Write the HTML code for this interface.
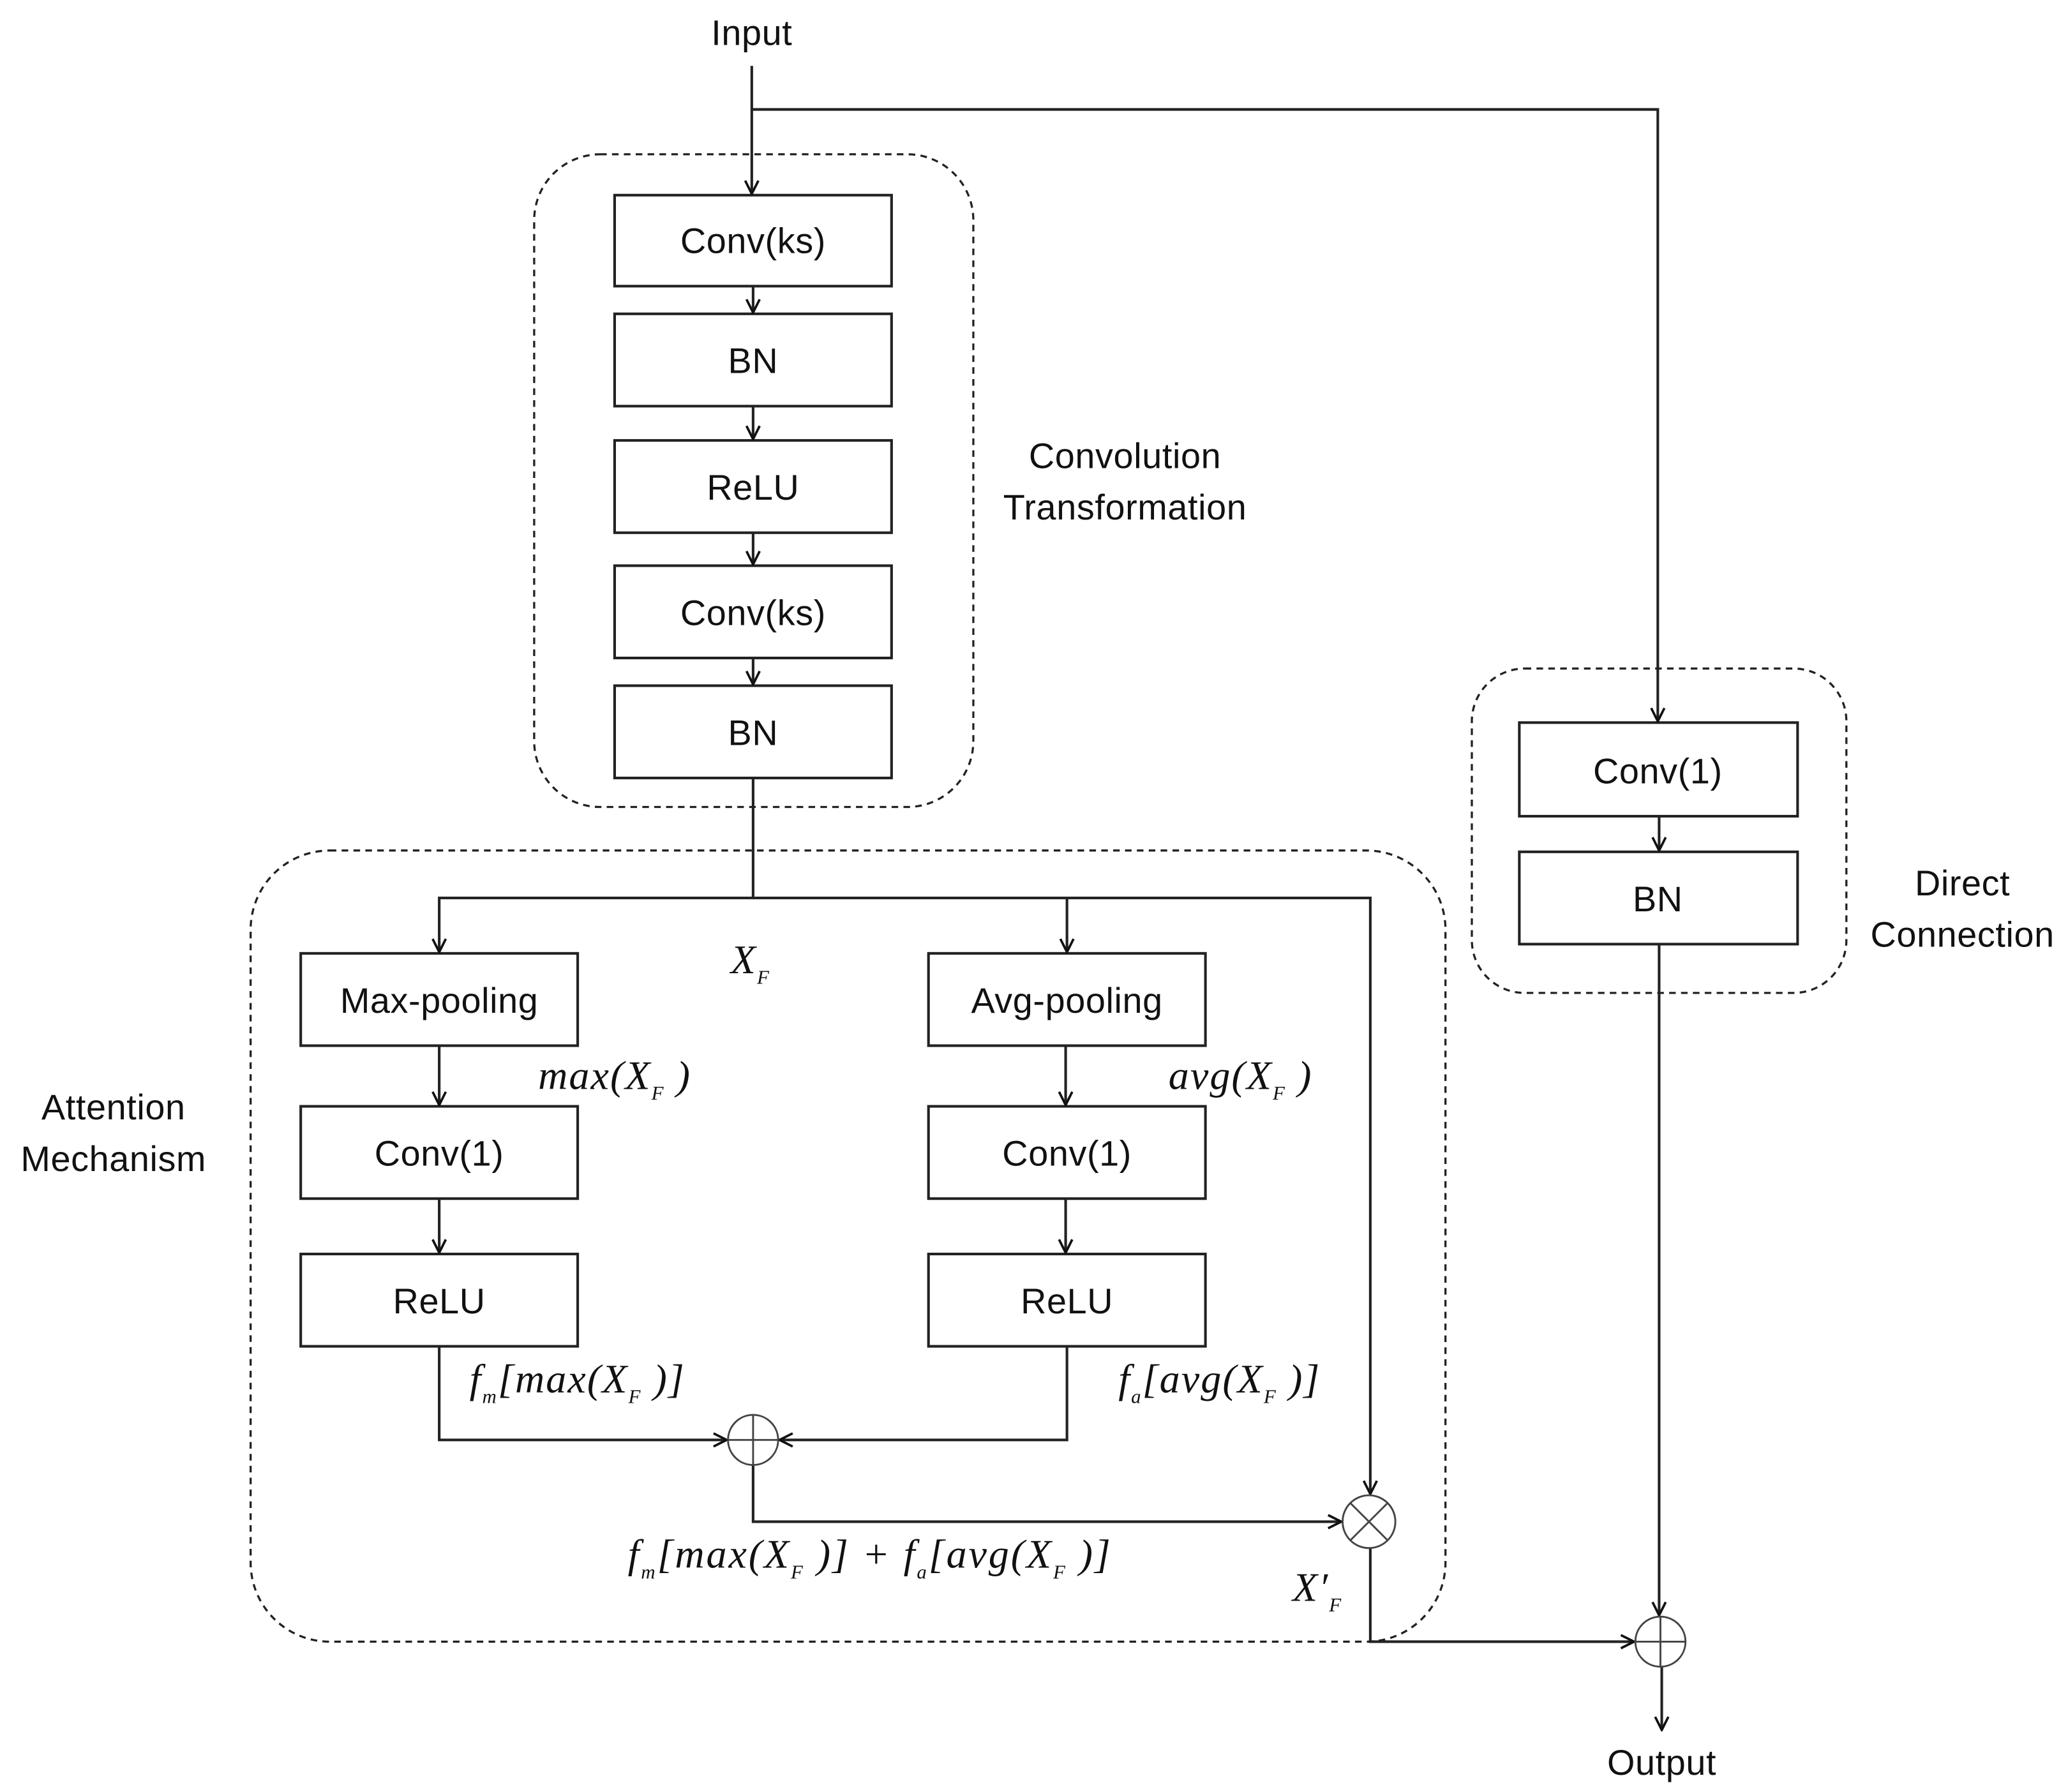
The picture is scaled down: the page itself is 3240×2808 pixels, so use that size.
<!DOCTYPE html>
<html><head><meta charset="utf-8"><style>
html,body{margin:0;padding:0;background:#fff;}
svg{display:block;}
.t{font-family:"Liberation Sans",sans-serif;font-size:27px;fill:#111;text-anchor:middle;letter-spacing:0.3px;}
.m{font-family:"Liberation Serif",serif;font-style:italic;font-size:31px;fill:#111;letter-spacing:1px;}
.s{font-size:15px;}
</style></head><body>
<svg width="3240" height="2808" viewBox="0 0 1568 1359" xmlns="http://www.w3.org/2000/svg">
<defs>
<marker id="a" viewBox="0 0 12 12" refX="11" refY="6" markerWidth="12" markerHeight="12" markerUnits="userSpaceOnUse" orient="auto">
<path d="M1,1 L11,6 L1,11" fill="none" stroke="#111" stroke-width="1.8"/>
</marker>
</defs>
<g fill="none" stroke="#222" stroke-width="1.6" stroke-dasharray="5,4">
<rect x="405" y="117" width="333" height="495" rx="50"/>
<rect x="1116" y="507" width="284" height="246" rx="40"/>
<rect x="190" y="645" width="906" height="600" rx="60"/>
</g>
<g fill="#fff" stroke="#222" stroke-width="2">
<rect x="466" y="148" width="210" height="69"/>
<rect x="466" y="238" width="210" height="70"/>
<rect x="466" y="334" width="210" height="70"/>
<rect x="466" y="429" width="210" height="70"/>
<rect x="466" y="520" width="210" height="70"/>
<rect x="1152" y="548" width="211" height="71"/>
<rect x="1152" y="646" width="211" height="70"/>
<rect x="228" y="723" width="210" height="70"/>
<rect x="704" y="723" width="210" height="70"/>
<rect x="228" y="839" width="210" height="70"/>
<rect x="704" y="839" width="210" height="70"/>
<rect x="228" y="951" width="210" height="70"/>
<rect x="704" y="951" width="210" height="70"/>
</g>
<g fill="none" stroke="#222" stroke-width="2" marker-end="url(#a)">
<path d="M570,50 V147"/>
<path d="M570,83 H1257 V547"/>
<path d="M571,217 V237"/>
<path d="M571,308 V333"/>
<path d="M571,404 V428"/>
<path d="M571,499 V519"/>
<path d="M571,590 V681 H333 V722"/>
<path d="M571,681 H809 V722"/>
<path d="M809,681 H1039 V1133"/>
<path d="M333,793 V838"/>
<path d="M808,793 V838"/>
<path d="M333,909 V950"/>
<path d="M808,909 V950"/>
<path d="M333,1021 V1092 H551"/>
<path d="M809,1021 V1092 H591"/>
<path d="M571,1111 V1154 H1017"/>
<path d="M1039,1174 V1245 H1239"/>
<path d="M1258,716 V1225"/>
<path d="M1260,1264 V1312"/>
<path d="M1258,619 V645"/>
</g>
<g fill="none" stroke="#444" stroke-width="1.4">
<circle cx="571" cy="1092" r="19"/><path d="M552,1092 H590 M571,1073 V1111"/>
<circle cx="1038" cy="1154" r="20"/><path d="M1024,1140 L1052,1168 M1052,1140 L1024,1168"/>
<circle cx="1259" cy="1245" r="19"/><path d="M1240,1245 H1278 M1259,1226 V1264"/>
</g>
<text class="t" x="570" y="34">Input</text>
<text class="t" x="1260" y="1346">Output</text>
<text class="t" x="571" y="192">Conv(ks)</text>
<text class="t" x="571" y="283">BN</text>
<text class="t" x="571" y="379">ReLU</text>
<text class="t" x="571" y="474">Conv(ks)</text>
<text class="t" x="571" y="565">BN</text>
<text class="t" x="1257" y="594">Conv(1)</text>
<text class="t" x="1257" y="691">BN</text>
<text class="t" x="333" y="768">Max-pooling</text>
<text class="t" x="809" y="768">Avg-pooling</text>
<text class="t" x="333" y="884">Conv(1)</text>
<text class="t" x="809" y="884">Conv(1)</text>
<text class="t" x="333" y="996">ReLU</text>
<text class="t" x="809" y="996">ReLU</text>
<text class="t" x="853" y="355">Convolution</text>
<text class="t" x="853" y="394">Transformation</text>
<text class="t" x="1488" y="679">Direct</text>
<text class="t" x="1488" y="718">Connection</text>
<text class="t" x="86" y="849">Attention</text>
<text class="t" x="86" y="888">Mechanism</text>
<text class="m" x="554" y="738">X<tspan class="s" dy="8">F</tspan></text>
<text class="m" x="408" y="826">max(X<tspan class="s" dy="8">F</tspan><tspan dy="-8"> )</tspan></text>
<text class="m" x="886" y="826">avg(X<tspan class="s" dy="8">F</tspan><tspan dy="-8"> )</tspan></text>
<text class="m" x="356" y="1056">f<tspan class="s" dy="8">m</tspan><tspan dy="-8">[max(X</tspan><tspan class="s" dy="8">F</tspan><tspan dy="-8"> )]</tspan></text>
<text class="m" x="848" y="1056">f<tspan class="s" dy="8">a</tspan><tspan dy="-8">[avg(X</tspan><tspan class="s" dy="8">F</tspan><tspan dy="-8"> )]</tspan></text>
<text class="m" x="476" y="1189" textLength="367" lengthAdjust="spacing">f<tspan class="s" dy="8">m</tspan><tspan dy="-8">[max(X</tspan><tspan class="s" dy="8">F</tspan><tspan dy="-8"> )] + f</tspan><tspan class="s" dy="8">a</tspan><tspan dy="-8">[avg(X</tspan><tspan class="s" dy="8">F</tspan><tspan dy="-8"> )]</tspan></text>
<text class="m" x="980" y="1214">X′<tspan class="s" dy="8">F</tspan></text>
</svg>
</body></html>
